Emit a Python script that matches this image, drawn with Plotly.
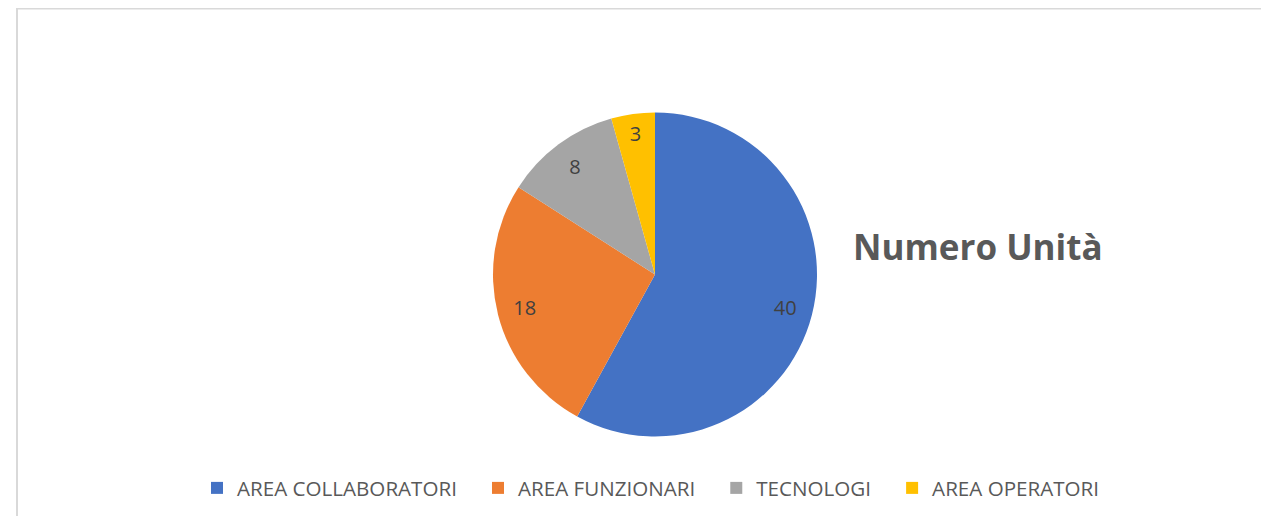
import plotly.graph_objects as go

categories = ["AREA COLLABORATORI", "AREA FUNZIONARI", "TECNOLOGI", "AREA OPERATORI"]
values = [40, 18, 8, 3]
colors = ["#4472C4", "#ED7D31", "#A5A5A5", "#FFC000"]
title_text = "Numero Unità"

# page has an 8px body margin; figure is sized so nothing scrolls
OFF = 8
W, H = 1269 - 2 * OFF, 524 - 2 * OFF


def fx(px):
    return (px - OFF) / W


def fy(py):
    return 1 - (py - OFF) / H


cx, cy, r = 655, 274.5, 162
dom = dict(x=[fx(cx - r), fx(cx + r)], y=[fy(cy + r), fy(cy - r)])

# legend entries get a little trailing room, like the original spacing
legend_labels = [c + "\u00a0" * 3 for c in categories]

fig = go.Figure()
# filled pie (no text)
fig.add_trace(go.Pie(
    labels=legend_labels,
    values=values,
    sort=False,
    direction="clockwise",
    rotation=0,
    marker=dict(colors=colors, line=dict(width=0)),
    textinfo="none",
    domain=dom,
    hoverinfo="label+value",
))
# transparent ring carrying the value labels at ~0.83 r
fig.add_trace(go.Pie(
    labels=legend_labels,
    values=values,
    sort=False,
    direction="clockwise",
    rotation=0,
    hole=0.66,
    marker=dict(colors=["rgba(0,0,0,0)"] * len(values), line=dict(width=0)),
    textinfo="value",
    textposition="inside",
    insidetextorientation="horizontal",
    textfont=dict(family="Open Sans", size=20, color="#404040"),
    domain=dom,
    showlegend=False,
    hoverinfo="label+value",
))

fig.add_annotation(
    text="<b>" + title_text + "</b>",
    xref="paper", yref="paper", x=fx(851), y=fy(246),
    xanchor="left", yanchor="middle", showarrow=False,
    font=dict(family="Open Sans", size=35, color="#595959"),
)

# chart-area border: top and left edges (right/bottom are off-page)
fig.add_shape(type="line", xref="paper", yref="paper",
              x0=fx(16), x1=1.0, y0=fy(8.5), y1=fy(8.5),
              line=dict(color="#D9D9D9", width=2))
fig.add_shape(type="line", xref="paper", yref="paper",
              x0=fx(17), x1=fx(17), y0=0.0, y1=fy(8),
              line=dict(color="#D9D9D9", width=2))

fig.update_layout(
    width=W, height=H,
    margin=dict(l=0, r=0, t=0, b=0),
    paper_bgcolor="white",
    plot_bgcolor="white",
    showlegend=True,
    legend=dict(
        orientation="h", x=fx(659), xanchor="center", y=fy(488), yanchor="middle",
        font=dict(family="Open Sans", size=20.6, color="#595959"),
        itemwidth=30,
    ),
)

fig.write_html("out.html", config={"displayModeBar": False})
